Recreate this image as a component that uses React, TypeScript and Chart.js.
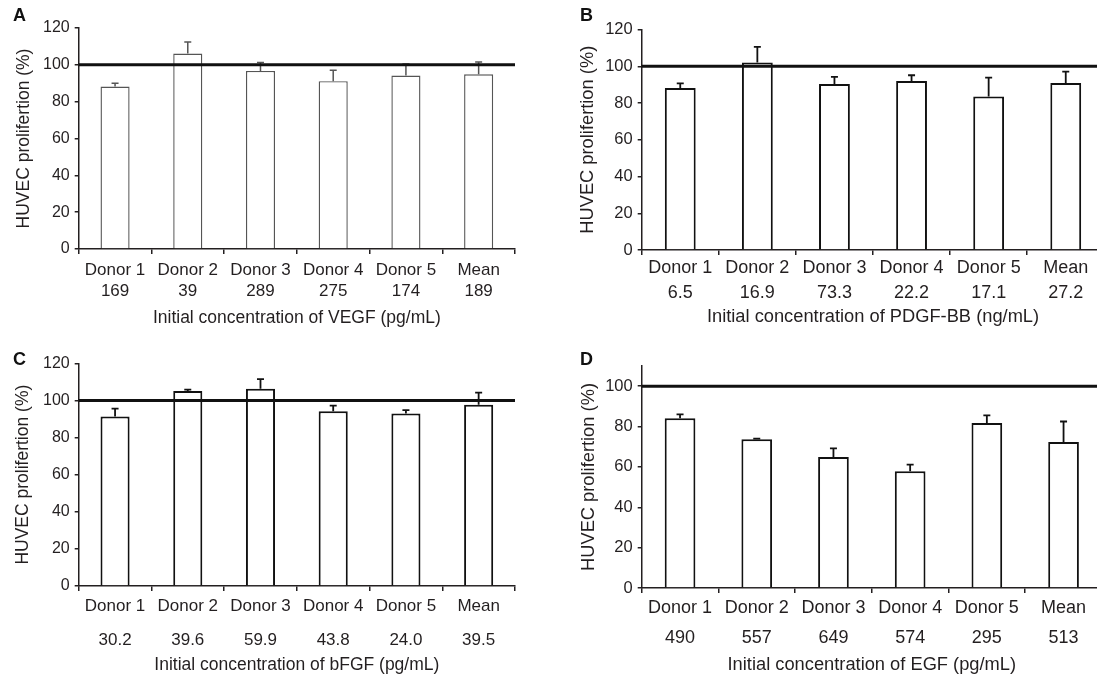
import React, { useEffect, useRef } from 'react';
import { Chart, registerables } from 'chart.js';

Chart.register(...registerables);

const DONORS = ['Donor 1', 'Donor 2', 'Donor 3', 'Donor 4', 'Donor 5', 'Mean'];
const REFERENCE = 100;

const VEGF_CONC = ['169', '39', '289', '275', '174', '189'];
const VEGF_VALUES = [88.2, 106.1, 96.7, 91.1, 94.2, 94.9];
const VEGF_SD = [1.8, 6.3, 4.5, 6.0, 6.3, 6.7];

const PDGF_CONC = ['6.5', '16.9', '73.3', '22.2', '17.1', '27.2'];
const PDGF_VALUES = [88.2, 102.0, 90.4, 92.0, 83.6, 90.9];
const PDGF_SD = [2.5, 8.5, 3.8, 3.1, 10.2, 6.2];

const BFGF_CONC = ['30.2', '39.6', '59.9', '43.8', '24.0', '39.5'];
const BFGF_VALUES = [91.3, 105.1, 106.3, 94.1, 92.9, 97.7];
const BFGF_SD = [4.3, 0.7, 5.2, 3.1, 1.9, 6.5];

const EGF_CONC = ['490', '557', '649', '574', '295', '513'];
const EGF_VALUES = [84.1, 73.7, 64.9, 57.8, 81.8, 72.4];
const EGF_SD = [1.9, 0.3, 4.3, 3.3, 3.7, 10.1];

const Y_TITLE = 'HUVEC prolifertion (%)';
const TEXT = '#231f20';
const FONT = '"Liberation Sans", Arial, Helvetica, sans-serif';

type PanelCfg = {
  letter: string;
  letterX: number;
  letterY: number;
  conc: string[];
  values: number[];
  sd: number[];
  xTitle: string;
  yMax: number;
  left: number;
  top: number;
  width: number;
  height: number;
  yAxisWidth: number;
  padTop: number;
  padRight: number;
  xAxisHeight: number;
  xFont: number;
  yFont: number;
  titleFont: number;
  xLineHeight: number;
  xTickPad: number;
  yTitlePad: number;
  xTitlePad: number;
  barColor: string;
  barWidth: number;
  errWidth: number;
};

const PANELS: PanelCfg[] = [
  {
    letter: 'A', letterX: 13, letterY: 21,
    conc: VEGF_CONC, values: VEGF_VALUES, sd: VEGF_SD,
    xTitle: 'Initial concentration of VEGF (pg/mL)', yMax: 120,
    left: 0, top: 0, width: 548, height: 330,
    yAxisWidth: 78.7, padTop: 28, padRight: 33, xAxisHeight: 81,
    xFont: 17, yFont: 16, titleFont: 17.5,
    xLineHeight: 21, xTickPad: 5.5, yTitlePad: 13.5, xTitlePad: 1.2,
    barColor: '#555', barWidth: 1.4, errWidth: 1.5,
  },
  {
    letter: 'B', letterX: 32, letterY: 21,
    conc: PDGF_CONC, values: PDGF_VALUES, sd: PDGF_SD,
    xTitle: 'Initial concentration of PDGF-BB (ng/mL)', yMax: 120,
    left: 548, top: 0, width: 560, height: 330,
    yAxisWidth: 93.7, padTop: 29.5, padRight: 3.7, xAxisHeight: 80,
    xFont: 18, yFont: 16.5, titleFont: 18.3,
    xLineHeight: 25, xTickPad: 0.8, yTitlePad: 29, xTitlePad: 2.5,
    barColor: '#111', barWidth: 2, errWidth: 1.8,
  },
  {
    letter: 'C', letterX: 13, letterY: 35,
    conc: BFGF_CONC, values: BFGF_VALUES, sd: BFGF_SD,
    xTitle: 'Initial concentration of bFGF (pg/mL)', yMax: 120,
    left: 0, top: 330, width: 548, height: 350,
    yAxisWidth: 78.7, padTop: 33.3, padRight: 33, xAxisHeight: 94,
    xFont: 17, yFont: 16, titleFont: 17.5,
    xLineHeight: 33.3, xTickPad: -1, yTitlePad: 12.2, xTitlePad: 4.5,
    barColor: '#111', barWidth: 2, errWidth: 1.8,
  },
  {
    letter: 'D', letterX: 32, letterY: 35,
    conc: EGF_CONC, values: EGF_VALUES, sd: EGF_SD,
    xTitle: 'Initial concentration of EGF (pg/mL)', yMax: 110,
    left: 548, top: 330, width: 560, height: 350,
    yAxisWidth: 93.7, padTop: 36, padRight: 6.1, xAxisHeight: 92,
    xFont: 18, yFont: 16.5, titleFont: 18.3,
    xLineHeight: 29.5, xTickPad: 0.3, yTitlePad: 30, xTitlePad: 4.2,
    barColor: '#111', barWidth: 2, errWidth: 1.8,
  },
];

function makeAnnot(p: PanelCfg) {
  return {
    id: 'annot',
    afterDatasetsDraw(chart: any) {
      const { ctx, chartArea, scales } = chart;
      const y = scales.y;
      const meta = chart.getDatasetMeta(0);
      ctx.save();
      // error bars (upper only)
      ctx.strokeStyle = p.barColor;
      ctx.lineWidth = p.errWidth;
      meta.data.forEach((bar: any, i: number) => {
        const v = p.values[i];
        const yb = y.getPixelForValue(v);
        const yt = y.getPixelForValue(v + p.sd[i]);
        ctx.beginPath();
        ctx.moveTo(bar.x, yb);
        ctx.lineTo(bar.x, yt);
        ctx.moveTo(bar.x - 3.5, yt);
        ctx.lineTo(bar.x + 3.5, yt);
        ctx.stroke();
      });
      // reference line at 100%
      const yr = y.getPixelForValue(REFERENCE);
      ctx.strokeStyle = '#111';
      ctx.lineWidth = 3;
      ctx.beginPath();
      ctx.moveTo(chartArea.left, yr);
      ctx.lineTo(chartArea.right, yr);
      ctx.stroke();
      // panel letter
      ctx.fillStyle = '#111';
      ctx.font = 'bold 18px ' + FONT;
      ctx.textBaseline = 'alphabetic';
      ctx.textAlign = 'left';
      ctx.fillText(p.letter, p.letterX, p.letterY);
      ctx.restore();
    },
  };
}

function Panel({ p }: { p: PanelCfg }) {
  const ref = useRef<HTMLCanvasElement>(null);
  useEffect(() => {
    if (!ref.current) return;
    const labels = DONORS.map((d, i) => [d, p.conc[i]]);
    const chart = new Chart(ref.current, {
      type: 'bar',
      data: {
        labels,
        datasets: [
          {
            data: p.values,
            backgroundColor: '#ffffff',
            borderColor: p.barColor,
            borderWidth: p.barWidth,
            barPercentage: 0.4,
            categoryPercentage: 1,
          },
        ],
      },
      options: {
        responsive: false,
        animation: false,
        devicePixelRatio: 1,
        layout: { padding: { left: 0, top: p.padTop, right: p.padRight, bottom: 0 } },
        plugins: {
          legend: { display: false },
          tooltip: { enabled: false },
        },
        scales: {
          x: {
            ticks: {
              color: TEXT,
              font: { family: FONT, size: p.xFont, lineHeight: p.xLineHeight + 'px' },
              padding: p.xTickPad,
              maxRotation: 0,
              autoSkip: false,
            },
            grid: {
              drawOnChartArea: false,
              drawTicks: true,
              tickLength: 5,
              color: TEXT,
              lineWidth: 1.5,
              offset: true,
            },
            border: { display: true, color: TEXT, width: 1.5 },
            title: {
              display: true,
              text: p.xTitle,
              color: TEXT,
              font: { family: FONT, size: p.titleFont },
              padding: { top: 0, bottom: p.xTitlePad },
            },
            afterFit(s: any) {
              s.height = p.xAxisHeight;
            },
          },
          y: {
            min: 0,
            max: p.yMax,
            ticks: {
              stepSize: 20,
              color: TEXT,
              font: { family: FONT, size: p.yFont },
              padding: 5,
            },
            grid: {
              drawOnChartArea: false,
              drawTicks: true,
              tickLength: 4,
              color: TEXT,
              lineWidth: 1.5,
            },
            border: { display: true, color: TEXT, width: 1.5 },
            title: {
              display: true,
              text: Y_TITLE,
              color: TEXT,
              font: { family: FONT, size: p.titleFont },
              padding: { top: p.yTitlePad, bottom: 0 },
            },
            afterBuildTicks(s: any) {
              s.ticks = s.ticks.filter((t: any) => t.value % 20 === 0);
            },
            afterFit(s: any) {
              s.width = p.yAxisWidth;
            },
          },
        },
      } as any,
      plugins: [makeAnnot(p)],
    });
    return () => chart.destroy();
  }, [p]);
  return (
    <div style={{ position: 'absolute', left: p.left, top: p.top, width: p.width, height: p.height }}>
      <canvas
        ref={ref}
        width={p.width}
        height={p.height}
        style={{ display: 'block', width: p.width, height: p.height }}
      />
    </div>
  );
}

export default function App() {
  return (
    <div style={{ position: 'absolute', left: 0, top: 0, width: 1097, height: 680, background: '#fff', overflow: 'hidden' }}>
      {PANELS.map((p) => (
        <Panel key={p.letter} p={p} />
      ))}
    </div>
  );
}
